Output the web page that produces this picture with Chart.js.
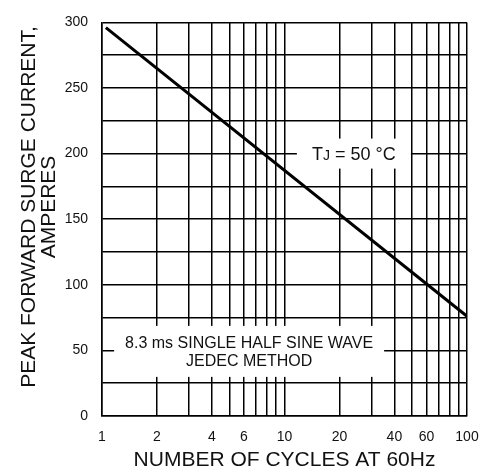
<!DOCTYPE html>
<html>
<head>
<meta charset="utf-8">
<script src="https://cdn.jsdelivr.net/npm/chart.js@4.4.0/dist/chart.umd.min.js"></script>
<style>
html, body { margin: 0; padding: 0; background: #fff; }
#wrap { width: 495px; height: 476px; }
</style>
</head>
<body>
<div id="wrap"><canvas id="myChart"></canvas></div>
<script>
// surge curve
var cycles = [1.05, 100];
var surge = [296, 76];
var gridCycles = [1, 2, 3, 4, 5, 6, 7, 8, 9, 10, 20, 30, 40, 50, 60, 70, 80, 90, 100];
var labelCycles = [1, 2, 4, 6, 10, 20, 40, 60, 100];
var labelAmps = [0, 50, 100, 150, 200, 250, 300];

var FONT = "'Liberation Sans', Arial, sans-serif";

var notes = {
    id: 'notes',
    afterDraw: function(chart) {
        var ctx = chart.ctx;
        var xs = chart.scales.x, ys = chart.scales.y;
        ctx.save();

        // Tj box
        var cx = xs.getPixelForValue(24), cy = ys.getPixelForValue(200);
        ctx.fillStyle = '#fff';
        ctx.fillRect(cx - 57, cy - 15, 114, 30);
        ctx.fillStyle = '#111';
        ctx.textBaseline = 'alphabetic';
        ctx.textAlign = 'left';
        var big = '18px ' + FONT, small = '14px ' + FONT;
        ctx.font = big;
        var w1 = ctx.measureText('T').width;
        var w3 = ctx.measureText(' = 50 \u00B0C').width;
        ctx.font = small;
        var w2 = ctx.measureText('J').width;
        var sx = cx - (w1 + w2 + w3) / 2;
        ctx.font = big;
        ctx.fillText('T', sx, cy + 6);
        ctx.font = small;
        ctx.fillText('J', sx + w1, cy + 6);
        ctx.font = big;
        ctx.fillText(' = 50 \u00B0C', sx + w1 + w2, cy + 6);

        // jedec box
        var jx = xs.getPixelForValue(6.4), jy = ys.getPixelForValue(50);
        ctx.fillStyle = '#fff';
        ctx.fillRect(jx - 135, jy - 24.5, 270, 51);
        ctx.fillStyle = '#111';
        ctx.textAlign = 'center';
        ctx.font = '16px ' + FONT;
        ctx.fillText('8.3 ms SINGLE HALF SINE WAVE', jx, jy - 2.5);
        ctx.fillText('JEDEC METHOD', jx, jy + 15.5);

        // y axis title, two lines
        ctx.font = '21px ' + FONT;
        ctx.translate(35, 207);
        ctx.rotate(-Math.PI / 2);
        ctx.fillText('PEAK FORWARD SURGE CURRENT,', 0, 0);
        ctx.fillText('AMPERES', 0, 20);
        ctx.restore();
    }
};

var ctx = document.getElementById('myChart').getContext('2d');
var myChart = new Chart(ctx, {
    type: 'scatter',
    data: {
        datasets: [{
            data: cycles.map(function(c, i) { return {x: c, y: surge[i]}; }),
            showLine: true,
            borderColor: '#000',
            borderWidth: 3,
            pointRadius: 0,
            fill: false
        }]
    },
    options: {
        responsive: true,
        maintainAspectRatio: false,
        animation: false,
        layout: { padding: { top: 17, right: 28, left: 0, bottom: 0 } },
        plugins: {
            legend: { display: false },
            tooltip: { enabled: false }
        },
        scales: {
            x: {
                type: 'logarithmic',
                min: 1,
                max: 100,
                afterBuildTicks: function(s) {
                    s.ticks = gridCycles.map(function(v) { return {value: v}; });
                },
                afterFit: function(s) { s.height = 60; },
                ticks: {
                    autoSkip: false,
                    maxRotation: 0,
                    minRotation: 0,
                    padding: 13,
                    color: '#111',
                    font: { family: FONT, size: 14 },
                    callback: function(v) {
                        return labelCycles.indexOf(v) >= 0 ? String(v) : '';
                    }
                },
                grid: { color: '#000', lineWidth: 1.5, drawTicks: false },
                border: { display: true, color: '#000', width: 1.5 },
                title: {
                    display: true,
                    text: 'NUMBER OF CYCLES AT 60Hz',
                    color: '#111',
                    font: { family: FONT, size: 21 },
                    padding: { top: 0, bottom: 3 }
                }
            },
            y: {
                min: 0,
                max: 300,
                afterFit: function(s) { s.width = 102; },
                ticks: {
                    stepSize: 25,
                    padding: 14,
                    color: '#111',
                    font: { family: FONT, size: 14 },
                    callback: function(v) {
                        return labelAmps.indexOf(v) >= 0 ? String(v) : '';
                    }
                },
                grid: { color: '#000', lineWidth: 1.5, drawTicks: false },
                border: { display: true, color: '#000', width: 1.5 }
            }
        }
    },
    plugins: [notes]
});
</script>
</body>
</html>
